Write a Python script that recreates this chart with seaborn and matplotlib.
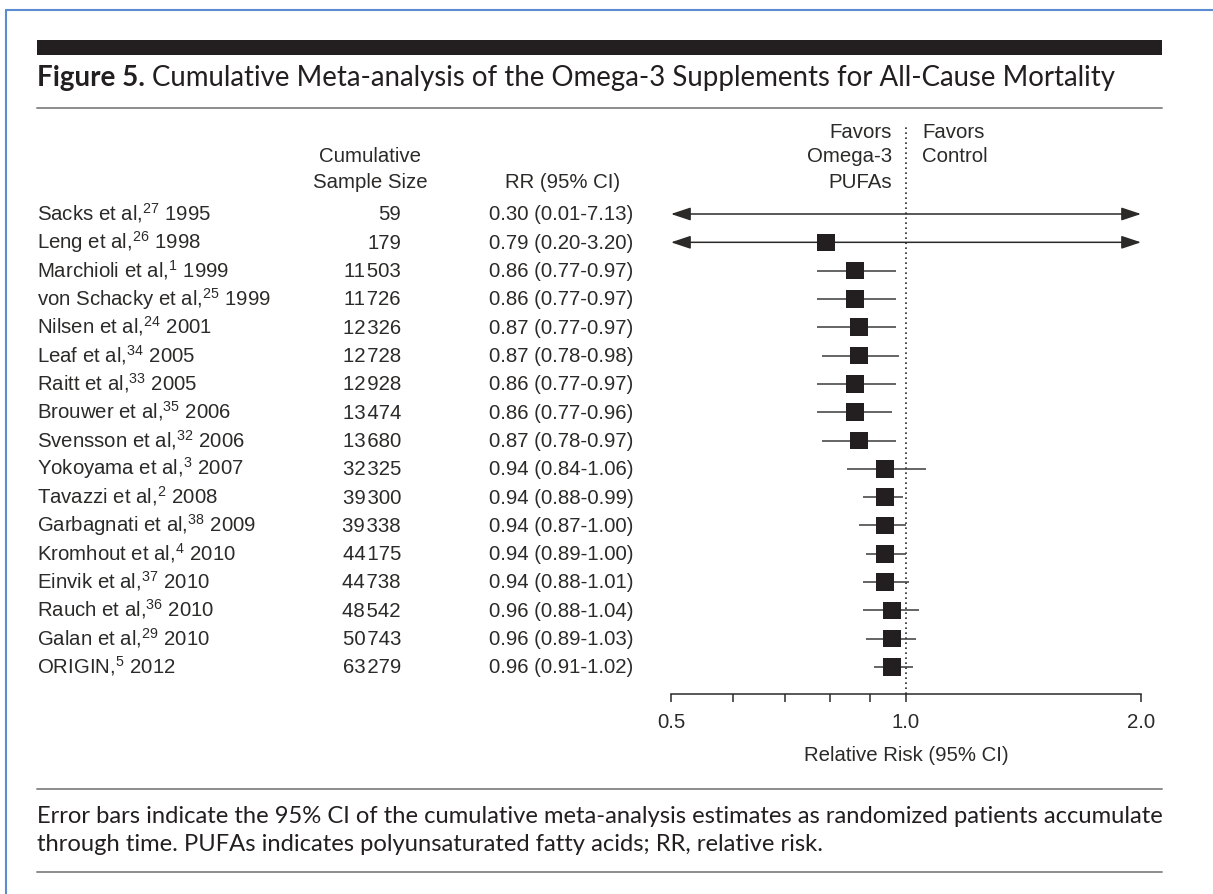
import matplotlib
matplotlib.use("Agg")
import matplotlib.pyplot as plt
from matplotlib.lines import Line2D
from matplotlib.patches import Rectangle
from matplotlib.transforms import blended_transform_factory
import numpy as np
import pandas as pd
import seaborn as sns

### data ###
authors = ["Sacks et al", "Leng et al", "Marchioli et al", "von Schacky et al",
           "Nilsen et al", "Leaf et al", "Raitt et al", "Brouwer et al",
           "Svensson et al", "Yokoyama et al", "Tavazzi et al", "Garbagnati et al",
           "Kromhout et al", "Einvik et al", "Rauch et al", "Galan et al", "ORIGIN"]
refs = [27, 26, 1, 25, 24, 34, 33, 35, 32, 3, 2, 38, 4, 37, 36, 29, 5]
years = [1995, 1998, 1999, 1999, 2001, 2005, 2005, 2006, 2006, 2007, 2008, 2009,
         2010, 2010, 2010, 2010, 2012]
sample_size = [59, 179, 11503, 11726, 12326, 12728, 12928, 13474, 13680, 32325,
               39300, 39338, 44175, 44738, 48542, 50743, 63279]
rr = [0.30, 0.79, 0.86, 0.86, 0.87, 0.87, 0.86, 0.86, 0.87, 0.94, 0.94, 0.94,
      0.94, 0.94, 0.96, 0.96, 0.96]
ci_low = [0.01, 0.20, 0.77, 0.77, 0.77, 0.78, 0.77, 0.77, 0.78, 0.84, 0.88, 0.87,
          0.89, 0.88, 0.88, 0.89, 0.91]
ci_high = [7.13, 3.20, 0.97, 0.97, 0.97, 0.98, 0.97, 0.96, 0.97, 1.06, 0.99, 1.00,
           1.00, 1.01, 1.04, 1.03, 1.02]
x_major = [0.5, 1.0, 2.0]
x_minor = [0.6, 0.7, 0.8, 0.9]

df = pd.DataFrame({"author": authors, "ref": refs, "year": years, "n": sample_size,
                   "rr": rr, "lo": ci_low, "hi": ci_high})
df["row"] = np.arange(len(df))

### style ###
sns.set_style("white")
ink = "#2b2a29"
body = "Liberation Sans"
fs = 14.7
plt.rcParams["font.family"] = [body, "DejaVu Sans"]
plt.rcParams["mathtext.fontset"] = "custom"
plt.rcParams["mathtext.rm"] = body
plt.rcParams["text.color"] = ink

W, H = 1213, 895
fig = plt.figure(figsize=(W / 100, H / 100), dpi=100)
fig.patch.set_facecolor("white")

def fx(px):
    return px / W

def fy(py):
    return 1 - py / H

# forest axes: x 0.5 -> 671px, 2.0 -> 1141px ; spine at 695px, top 125px
ax = fig.add_axes([fx(671), fy(695), fx(1141) - fx(671), fy(125) - fy(695)])
ax.set_facecolor("none")
ax.set_xscale("log")
xmin, xmax = 0.5, 2.0
ax.set_xlim(xmin, xmax)
row_gap = (668 - 215) / 16
ax.set_ylim((695 - 215) / row_gap, (125 - 215) / row_gap)

# CI lines (arrows where the interval runs off the scale)
for _, r in df.iterrows():
    lo, hi = max(r.lo, xmin), min(r.hi, xmax)
    if r.lo < xmin or r.hi > xmax:
        style = ("<|-" if r.lo < xmin else "-") + ("|>" if r.hi > xmax else "")
        ax.annotate("", xy=(hi, r.row), xytext=(lo, r.row),
                    arrowprops=dict(arrowstyle=style + ",head_length=0.6,head_width=0.2",
                                    color=ink, lw=1.1, shrinkA=0, shrinkB=0,
                                    mutation_scale=20),
                    annotation_clip=False)
    else:
        ax.hlines(r.row, lo, hi, color="#3a3a3a", lw=1.1, zorder=2)

vis = df[(df.rr >= xmin) & (df.rr <= xmax)]
sns.scatterplot(data=vis, x="rr", y="row", marker="s", s=160, color="#231f20",
                edgecolor="none", linewidth=0, ax=ax, zorder=3, legend=False)

ax.axvline(1.0, color=ink, ls=(0, (1, 2)), lw=1.2, zorder=1)

for s in ["top", "left", "right"]:
    ax.spines[s].set_visible(False)
ax.spines["bottom"].set_color(ink)
ax.spines["bottom"].set_linewidth(1.1)
ax.set_yticks([])
ax.set_xticks(x_major)
ax.set_xticklabels([f"{v:.1f}" for v in x_major])
ax.set_xticks(x_minor, minor=True)
ax.set_xticklabels([], minor=True)
ax.tick_params(axis="x", which="both", bottom=True, direction="out", length=6,
               width=1.1, color=ink, labelsize=fs, labelcolor=ink, pad=7)
ax.set_xlabel("Relative Risk (95% CI)", fontsize=fs, color=ink, labelpad=10)
ax.set_ylabel("")

# left columns, rows aligned with data y (common baseline)
tr = blended_transform_factory(fig.transFigure, ax.transData)
base = 0.19
for _, r in df.iterrows():
    label = f"{r.author},$^{{\\mathrm{{{r.ref}}}}}$ {r.year}"
    ax.text(fx(37), r.row + base, label, transform=tr, ha="left", va="baseline",
            fontsize=fs, color=ink)
    ax.text(fx(401), r.row + base, f"{r.n:,}".replace(",", "\u200a"), transform=tr,
            ha="right", va="baseline", fontsize=fs, color=ink)
    ax.text(fx(489), r.row + base, f"{r.rr:.2f} ({r.lo:.2f}-{r.hi:.2f})", transform=tr,
            ha="left", va="baseline", fontsize=fs, color=ink)

# column headers
fig.text(fx(370), fy(157), "Cumulative", ha="center", va="center", fontsize=fs)
fig.text(fx(370), fy(182), "Sample Size", ha="center", va="center", fontsize=fs)
fig.text(fx(563), fy(182), "RR (95% CI)", ha="center", va="center", fontsize=fs)
for yy, t in zip([132, 157, 182], ["Favors", "Omega-3", "PUFAs"]):
    fig.text(fx(892), fy(yy), t, ha="right", va="center", fontsize=fs)
for yy, t in zip([132, 157], ["Favors", "Control"]):
    fig.text(fx(922), fy(yy), t, ha="left", va="center", fontsize=fs)

# title block
cap_font = ["Lato", "DejaVu Sans"]
fig.add_artist(Rectangle((fx(37), fy(56)), fx(1162) - fx(37), fy(41) - fy(56),
                         transform=fig.transFigure, color="#231f20", lw=0))
t1 = fig.text(fx(37), fy(78), "Figure 5.", ha="left", va="center", fontsize=20,
              fontweight="bold", family=cap_font, color="#231f20")
fig.canvas.draw()
bb = t1.get_window_extent()
fig.text((bb.x1 + 7) / W, fy(78), "Cumulative Meta-analysis of the Omega-3 Supplements for All-Cause Mortality",
         ha="left", va="center", fontsize=19.9, family=cap_font, color="#231f20")

for yy in [109, 790, 873]:
    fig.add_artist(Line2D([fx(37), fx(1162)], [fy(yy), fy(yy)], color="#8c8c8c", lw=1.4))

fig.text(fx(37), fy(817), "Error bars indicate the 95% CI of the cumulative meta-analysis estimates as randomized patients accumulate",
         ha="left", va="center", fontsize=17.1, family=cap_font, color="#231f20")
fig.text(fx(37), fy(845), "through time. PUFAs indicates polyunsaturated fatty acids; RR, relative risk.",
         ha="left", va="center", fontsize=17.1, family=cap_font, color="#231f20")

# page frame (light blue)
fig.add_artist(Line2D([fx(6), fx(1213)], [fy(11), fy(11)], color="#5b8bd0", lw=1.5))
fig.add_artist(Line2D([fx(6), fx(6)], [fy(11), fy(895)], color="#5b8bd0", lw=1.5))

fig.savefig("out.png", dpi=100)
